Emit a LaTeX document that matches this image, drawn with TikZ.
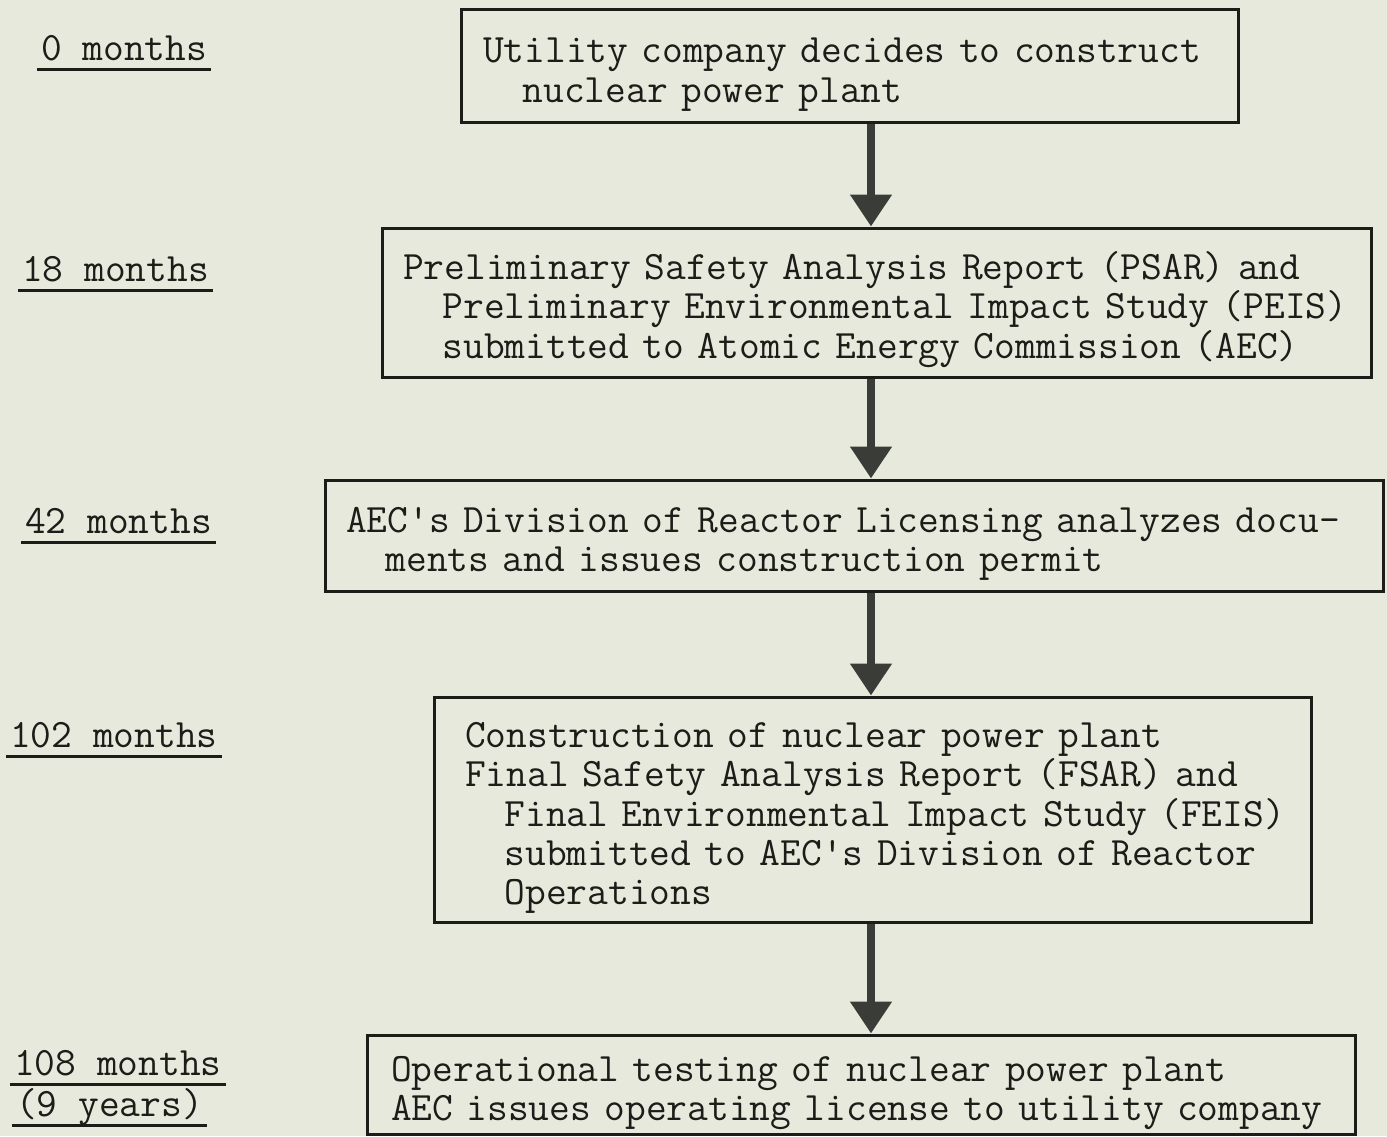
\documentclass[tikz,border=0pt]{standalone}
\usetikzlibrary{arrows.meta}

\definecolor{paper}{RGB}{232,233,221}
\definecolor{ink}{RGB}{28,28,24}
\definecolor{shaft}{RGB}{58,60,55}
\newcommand{\typed}{\fontsize{40.3}{39.2}\selectfont\ttfamily}
\newcommand{\ind}{\hspace*{0.985em}}
\newcommand{\topgap}{\rule{0pt}{42pt}}

\tikzset{
  stage/.style={draw=ink, line width=3pt, align=left, inner ysep=0pt, font=\typed, text=ink},
  period/.style={anchor=base west, inner xsep=4pt, inner ysep=0pt, font=\typed, text=ink},
  rule/.style={ink, line width=2.6pt},
  flow/.style={shaft, line width=8pt, -{Triangle[width=40pt,length=32pt]}}
}

\begin{document}
\begin{tikzpicture}[x=1pt,y=-1pt]
    \fill[paper] (0,0) rectangle (1387,1136);
    \useasboundingbox (0,0) rectangle (1387,1136);

    % the five steps of licensing
    \node[stage, text width=733pt, inner xsep=22pt, minimum height=113pt] (s1) at (849.5,66)
      {\topgap Utility company decides to construct\\\ind nuclear power plant};
    \node[stage, text width=947pt, inner xsep=21pt, minimum height=149pt] (s2) at (876.5,302.5)
      {\topgap Preliminary Safety Analysis Report (PSAR) and\\
       \ind Preliminary Environmental Impact Study (PEIS)\\
       \ind submitted to Atomic Energy Commission (AEC)};
    \node[stage, text width=1016pt, inner xsep=21pt, minimum height=111pt] (s3) at (854,535.5)
      {\topgap AEC\textquotesingle s Division of Reactor Licensing analyzes docu-\\
       \ind ments and issues construction permit};
    \node[stage, text width=815pt, inner xsep=31pt, minimum height=225pt] (s4) at (872.5,809.5)
      {\topgap Construction of nuclear power plant\\
       Final Safety Analysis Report (FSAR) and\\
       \mbox{\ind Final Environmental Impact Study (FEIS)}\\
       \ind submitted to AEC\textquotesingle s Division of Reactor\\
       \ind Operations};
    \node[stage, text width=940pt, inner xsep=24pt, minimum height=99pt] (s5) at (861,1084.5)
      {\topgap Operational testing of nuclear power plant\\
       AEC issues operating license to utility company};

    % time line on the left
    \node[period] (m0) at (37,60) {0 months};
    \node[period] (m18) at (18,281) {18 months};
    \node[period] (m42) at (21,533) {42 months};
    \node[period] (m102) at (6,747) {102 months};
    \node[period] (m108) at (10,1075) {108 months};
    \node[period] (m9y) at (12,1116) {(9 years)};

    \foreach \m in {m0,m18,m42,m102,m108,m9y}
      \draw[rule] ([yshift=-9.5pt]\m.base west) -- ([yshift=-9.5pt]\m.base east);

    % arrows
    \coordinate (spine) at (871,0);
    \draw[flow] (s1.south -| spine) -- (s2.north -| spine);
    \draw[flow] (s2.south -| spine) -- (s3.north -| spine);
    \draw[flow] (s3.south -| spine) -- (s4.north -| spine);
    \draw[flow] (s4.south -| spine) -- (s5.north -| spine);
\end{tikzpicture}
\end{document}
